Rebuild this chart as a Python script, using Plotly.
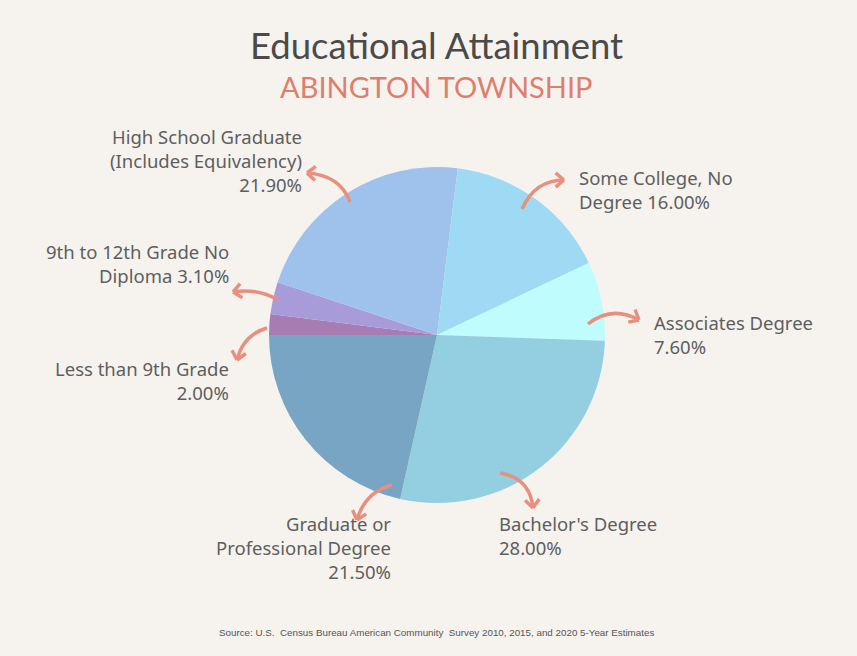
import plotly.graph_objects as go
import math

labels = ["Less than 9th Grade", "9th to 12th Grade No Diploma",
          "High School Graduate (Includes Equivalency)", "Some College, No Degree",
          "Associates Degree", "Bachelor's Degree", "Graduate or Professional Degree"]
values = [2.00, 3.10, 21.90, 16.00, 7.60, 28.00, 21.50]
colors = ["#a67cb2", "#a89bd9", "#9fc2ed", "#9fdaf4", "#befcfd", "#94cee1", "#77a5c3"]
label_texts = ["Less than 9th Grade<br>2.00%", "9th to 12th Grade No<br>Diploma 3.10%",
               "High School Graduate<br>(Includes Equivalency)<br>21.90%",
               "Some College, No<br>Degree 16.00%", "Associates Degree<br>7.60%",
               "Bachelor's Degree<br>28.00%", "Graduate or<br>Professional Degree<br>21.50%"]

W, H = 857, 656
def px(x, y):
    return x / W, 1 - y / H

# label placement (pixel anchor, xanchor)
label_pos = [(231, 380, "right", "middle"), (231, 263, "right", "middle"),
             (304, 161, "right", "middle"), (577, 190, "left", "middle"),
             (652, 335, "left", "middle"), (497, 535, "left", "middle"),
             (393, 547, "right", "middle")]
# arrows: tail, control, head (pixels)
arrows = [((267, 328), (243, 335), (237, 360)),
          ((278, 300), (258, 288), (233, 292)),
          ((350, 202), (340, 175), (307, 173)),
          ((522, 209), (535, 180), (564, 180)),
          ((588, 324), (612, 305), (639, 320)),
          ((500, 473), (530, 478), (533, 508)),
          ((392, 485), (365, 492), (357, 520))]

fig = go.Figure(go.Pie(
    labels=labels, values=values, sort=False, direction="clockwise", rotation=270,
    marker=dict(colors=colors, line=dict(width=0)), textinfo="none", hoverinfo="label+percent",
    domain=dict(x=[(437 - 168) / W, (437 + 168) / W], y=[(321 - 168) / H, (321 + 168) / H]),
    showlegend=False))

annotations = []
for t, (x, y, xa, ya) in zip(label_texts, label_pos):
    X, Y = px(x, y)
    annotations.append(dict(x=X, y=Y, xref="paper", yref="paper", text=t, showarrow=False,
                            xanchor=xa, yanchor=ya, align=xa,
                            font=dict(family="Noto Sans", size=18.5, color="#5e5e5e")))

annotations.append(dict(x=px(436, 45)[0], y=px(436, 45)[1], xref="paper", yref="paper",
                        text="Educational Attainment", showarrow=False, xanchor="center", yanchor="middle",
                        font=dict(family="Lato", size=36.5, color="#4a4a4a")))
annotations.append(dict(x=px(437, 87)[0], y=px(437, 87)[1], xref="paper", yref="paper",
                        text="ABINGTON TOWNSHIP", showarrow=False, xanchor="center", yanchor="middle",
                        font=dict(family="Lato", size=29, color="#df7e6c")))
annotations.append(dict(x=px(437, 632)[0], y=px(437, 632)[1], xref="paper", yref="paper",
                        text="Source: U.S.  Census Bureau American Community  Survey 2010, 2015, and 2020 5-Year Estimates",
                        showarrow=False, xanchor="center", yanchor="middle",
                        font=dict(family="Liberation Sans", size=9.8, color="#555555")))

shapes = []
acol = "#e8907f"
for (p0, p1, p2) in arrows:
    a = px(*p0); b = px(*p1); c = px(*p2)
    shapes.append(dict(type="path", xref="paper", yref="paper",
                       path=f"M {a[0]},{a[1]} Q {b[0]},{b[1]} {c[0]},{c[1]}",
                       line=dict(color=acol, width=3.5)))
    dx, dy = p2[0] - p1[0], p2[1] - p1[1]
    ang = math.atan2(dy, dx)
    for s in (1, -1):
        aa = ang + math.pi + s * 0.7
        q = (p2[0] + 11 * math.cos(aa), p2[1] + 11 * math.sin(aa))
        qq = px(*q)
        shapes.append(dict(type="line", xref="paper", yref="paper", x0=c[0], y0=c[1], x1=qq[0], y1=qq[1],
                           line=dict(color=acol, width=3.5)))

fig.update_layout(width=W, height=H, margin=dict(l=0, r=0, t=0, b=0),
                  paper_bgcolor="#f6f3ef", plot_bgcolor="#f6f3ef",
                  annotations=annotations, shapes=shapes)
fig.write_html("out.html")
